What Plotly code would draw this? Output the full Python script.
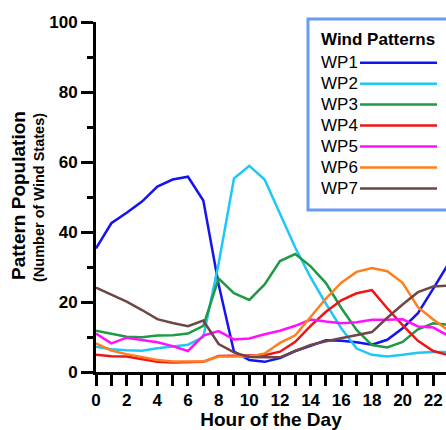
import plotly.graph_objects as go

hours = list(range(24))
series_names = ["WP1", "WP2", "WP3", "WP4", "WP5", "WP6", "WP7"]
colors = ["#1414f0", "#1ec8f5", "#1e9a44", "#ee1515", "#ff10ff", "#ff7f1e", "#6e4646"]

wp1 = [35.3, 42.5, 45.5, 48.7, 53.0, 55.0, 55.8, 49.0, 25.0, 5.8, 3.4, 2.9, 4.0, 6.0, 7.5, 9.1, 8.9, 8.5, 7.8, 9.2, 12.5, 16.8, 23.8, 31.0]
wp2 = [7.2, 6.5, 6.2, 6.1, 6.8, 7.2, 7.8, 10.0, 31.0, 55.3, 58.9, 55.0, 45.3, 35.5, 27.0, 19.5, 12.5, 6.7, 4.9, 4.4, 4.9, 5.5, 5.7, 5.7]
wp3 = [11.8, 10.9, 10.1, 9.9, 10.4, 10.5, 11.0, 13.2, 26.7, 22.5, 20.6, 25.0, 31.7, 33.7, 30.2, 25.4, 18.3, 12.0, 7.7, 7.0, 8.6, 12.2, 13.9, 13.5]
wp4 = [4.9, 4.5, 4.4, 3.6, 2.9, 2.7, 2.7, 2.9, 4.6, 4.6, 4.7, 4.8, 5.8, 8.6, 13.2, 17.2, 20.5, 22.5, 23.4, 18.2, 13.4, 8.9, 6.0, 4.8]
wp5 = [11.0, 8.2, 9.8, 9.1, 8.5, 7.4, 6.0, 10.4, 11.7, 9.3, 9.6, 10.8, 11.8, 13.2, 15.0, 14.4, 13.9, 14.2, 14.9, 14.9, 15.1, 13.0, 12.7, 10.3]
wp6 = [8.2, 6.1, 5.1, 4.2, 3.4, 3.0, 2.9, 3.0, 4.4, 4.5, 4.4, 5.3, 8.3, 10.5, 15.8, 21.0, 25.5, 28.6, 29.7, 28.8, 25.5, 18.5, 15.0, 11.8]
wp7 = [24.1, 22.0, 20.1, 17.7, 15.1, 14.0, 13.1, 14.7, 8.0, 5.6, 4.3, 4.2, 4.2, 6.0, 7.7, 8.8, 9.7, 10.6, 11.4, 15.5, 19.3, 22.8, 24.4, 24.7]
all_series = [wp1, wp2, wp3, wp4, wp5, wp6, wp7]

x_tickvals = list(range(0, 23))
x_ticktext = [str(h) if h % 2 == 0 else "" for h in x_tickvals]
y_tickvals = [0, 20, 40, 60, 80, 100]

W, H = 446, 430
L, R, T, B = 96, 0, 22, 58
pw, ph = W - L - R, H - T - B

def px(x):
    return (x - L) / pw

def py(y):
    return (H - B - y) / ph

fig = go.Figure()
for name, vals, col in zip(series_names, all_series, colors):
    fig.add_trace(go.Scatter(x=hours, y=vals, mode="lines", name=name,
                             line=dict(color=col, width=2.5), showlegend=False))

font_b = "Liberation Sans, Arial, sans-serif"

fig.update_layout(
    width=W, height=H,
    margin=dict(l=L, r=R, t=T, b=B),
    plot_bgcolor="white", paper_bgcolor="white",
    font=dict(family=font_b, color="black"),
    xaxis=dict(range=[0, pw / 15.33], tickvals=x_tickvals, ticktext=x_ticktext,
               ticks="outside", ticklen=11, tickwidth=3, tickcolor="black",
               showline=True, linewidth=3, linecolor="black", showgrid=False, zeroline=False,
               tickfont=dict(size=17, family=font_b, weight="bold"),
               title=dict(text="<b>Hour of the Day</b>", font=dict(size=19), standoff=6)),
    yaxis=dict(range=[0, 100], tickvals=y_tickvals,
               ticks="outside", ticklen=12, tickwidth=3, tickcolor="black",
               minor=dict(dtick=10, ticks="outside", ticklen=6, tickwidth=3, tickcolor="black"),
               showline=True, linewidth=3, linecolor="black", showgrid=False, zeroline=False,
               tickfont=dict(size=17, family=font_b, weight="bold")),
)

# y-axis titles
fig.add_annotation(text="<b>Pattern Population</b>", xref="paper", yref="paper",
                   x=px(18), y=py(196), textangle=-90, showarrow=False,
                   font=dict(size=19, family=font_b), xanchor="center", yanchor="middle")
fig.add_annotation(text="<b>(Number of Wind States)</b>", xref="paper", yref="paper",
                   x=px(39), y=py(198), textangle=-90, showarrow=False,
                   font=dict(size=14.5, family=font_b), xanchor="center", yanchor="middle")

# custom legend (text left, line right)
fig.add_shape(type="rect", xref="paper", yref="paper",
              x0=px(308), x1=px(452), y0=py(210), y1=py(19),
              line=dict(color="#6a9cf2", width=3), fillcolor="white", layer="below")
fig.add_annotation(text="<b>Wind Patterns</b>", xref="paper", yref="paper",
                   x=px(319), y=py(40), xanchor="left", yanchor="middle", showarrow=False,
                   font=dict(size=17, family=font_b))
row0, dy = 62.7, 20.95
for i, (name, col) in enumerate(zip(series_names, colors)):
    yc = row0 + i * dy
    fig.add_annotation(text=name, xref="paper", yref="paper",
                       x=px(319), y=py(yc), xanchor="left", yanchor="middle", showarrow=False,
                       font=dict(size=17, family=font_b))
    fig.add_shape(type="line", xref="paper", yref="paper",
                  x0=px(360), x1=px(437), y0=py(yc), y1=py(yc),
                  line=dict(color=col, width=2.5))

fig.write_html("out.html")
